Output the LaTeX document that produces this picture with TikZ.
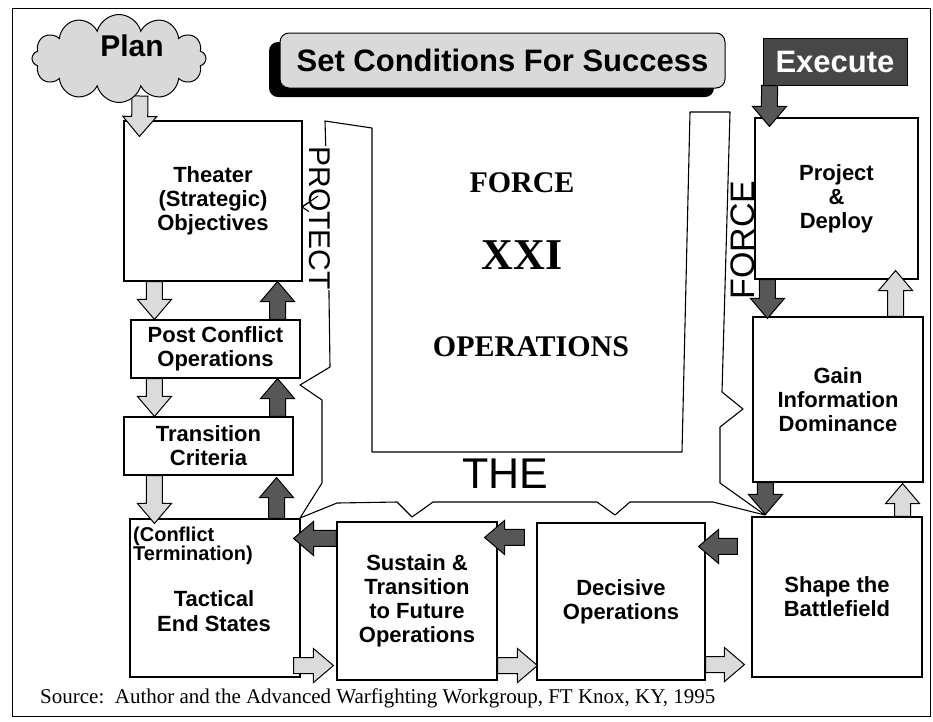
\documentclass[tikz,border=0pt]{standalone}
\usepackage{fontspec}
\setmainfont{Liberation Serif}
\newfontfamily\arialfont{Liberation Sans}
\usetikzlibrary{calc,shapes.symbols,shadows}
\newcommand\fsz[2]{\fontsize{#1pt}{#2pt}\selectfont}
\begin{document}
\begin{tikzpicture}[x=1pt,y=-1pt,
  box/.style={draw, line width=1.1pt, fill=white, align=center, inner sep=0pt,
    font=\arialfont\bfseries\fsz{22}{24}},
  boxtext/.style={align=center, inner sep=0pt, font=\arialfont\bfseries\fsz{22}{25}},
  band/.style={inner sep=0pt, font=\arialfont},
  inner/.style={inner sep=0pt, font=\bfseries},
  blk/.style={to path={let \p1=(\tikztostart), \p2=(\tikztotarget),
     \p3=($(\p1)!8pt!90:(\p2)$), \p4=($(\p1)!17pt!90:(\p2)$),
     \p5=($(\p2)!20pt!(\p1)$) in
     (\x3,\y3) -- ({\x5+\x3-\x1},{\y5+\y3-\y1}) -- ({\x5+\x4-\x1},{\y5+\y4-\y1})
     -- (\p2) -- ({\x5-\x4+\x1},{\y5-\y4+\y1}) -- ({\x5-\x3+\x1},{\y5-\y3+\y1})
     -- ({2*\x1-\x3},{2*\y1-\y3}) -- cycle}},
  lightarr/.style={draw, line width=1pt, fill=gray!28, blk},
  darkarr/.style={draw, line width=1pt, fill=black!66, blk}
 ]
\useasboundingbox (0,0) rectangle (933,721);
\fill[white] (0,0) rectangle (933,721);
% frame
\draw[line width=1pt] (12,8) rectangle (930,716);

% central outline (PROTECT / THE / FORCE band)
\draw[line width=1.1pt, line join=round]
  (325,121) -- (372,128) -- (372,452) -- (682,452) -- (690,112) -- (730,112)
  -- (722,392) -- (743,409) -- (720,427) -- (720,483) -- (765,515)
  -- (713,502) -- (630,502) -- (615,515) -- (597,502) -- (433,502)
  -- (412,517) -- (397,502) -- (337,503) -- (300,518) -- (322,483)
  -- (322,400) -- (300,385) -- (330,367) -- (328,224) -- (302,207)
  -- (327,190) -- cycle;
\node[band, rotate=-90, fill=white, font=\arialfont\fsz{30}{30}] (protect) at (320,218) {PROTECT};
\draw[line width=1.1pt] (302,207) -- (318,196);
\node[band, rotate=90, font=\arialfont\fsz{34}{34}] (force) at (743,240) {FORCE};
\node[band, font=\arialfont\fsz{43}{43}] (the) at (505,474) {THE};

% inner texts
\node[inner, font=\bfseries\fsz{30}{30}] (f21a) at (522,183) {FORCE};
\node[inner, font=\bfseries\fsz{44}{44}] (f21b) at (522,255) {XXI};
\node[inner, font=\bfseries\fsz{30}{30}] (f21c) at (531,347) {OPERATIONS};

% boxes
\node[box, minimum width=178pt, minimum height=160pt] (theater) at (213,201) {Theater\\(Strategic)\\Objectives};
\node[box, minimum width=169pt, minimum height=58pt] (post) at (215.5,349) {Post Conflict\\Operations};
\node[box, minimum width=169pt, minimum height=58pt] (trans) at (208.5,446) {Transition\\Criteria};
\node[box, minimum width=170pt, minimum height=158pt] (tact) at (215,598) {};
\node[boxtext] (tacttxt) at (214,611) {Tactical\\End States};
\node[boxtext, align=left, anchor=west, font=\arialfont\bfseries\fsz{20}{19}] (confl) at (133,546) {(Conflict\\Termination)};
\node[box, minimum width=160pt, minimum height=158pt] (sust) at (417,601) {Sustain \&\\Transition\\to Future\\Operations};
\node[box, minimum width=168pt, minimum height=157pt] (deci) at (621,601.5) {Decisive\\Operations};
\node[box, minimum width=170pt, minimum height=160pt] (shape) at (837,597) {Shape the\\Battlefield};
\node[box, minimum width=170pt, minimum height=165pt] (gain) at (838,399.5) {Gain\\Information\\Dominance};
\node[box, minimum width=163pt, minimum height=161pt] (proj) at (836.5,198.5) {Project\\\&\\Deploy};

% title boxes
\node[draw, line width=1pt, rounded corners=9pt, fill=gray!30, minimum width=445pt,
  minimum height=55pt, inner sep=0pt,
  drop shadow={shadow xshift=-11pt, shadow yshift=-9pt, fill=black, opacity=1},
  font=\arialfont\bfseries\fsz{31}{31}] (setc) at (502.5,60.5) {Set Conditions For Success};
\node[draw, line width=1pt, fill=black!72, minimum width=144pt, minimum height=47pt,
  inner sep=0pt, text=white, font=\arialfont\bfseries\fsz{31}{31}] (exe) at (835,61.5) {Execute};

% arrow end points
\coordinate (a2s) at ($(theater.south west)+(31,0)$);
\coordinate (a2e) at ($(post.north west)+(24,0)$);
\coordinate (a3s) at ($(post.north east)+(-23,0)$);
\coordinate (a3e) at ($(theater.south east)+(-25,0)$);
\coordinate (a4s) at ($(post.south west)+(24,0)$);
\coordinate (a4e) at ($(trans.north west)+(31,0)$);
\coordinate (a5s) at ($(trans.north east)+(-16,0)$);
\coordinate (a5e) at ($(post.south east)+(-23,0)$);
\coordinate (a6s) at ($(trans.south west)+(31,0)$);
\coordinate (a6e) at ($(tact.north west)+(25,5)$);
\coordinate (a7s) at ($(tact.north east)+(-24,0)$);
\coordinate (a7e) at ($(trans.south east)+(-17,2)$);
\coordinate (a8s) at ($(sust.north west)+(0,17)$);
\coordinate (a8e) at ($(tact.north east)+(-7,20)$);
\coordinate (a9s) at ($(tact.south east)+(-7,-12)$);
\coordinate (a9e) at ($(sust.south west)+(-3,-15)$);
\coordinate (a10s) at ($(deci.north west)+(-12,15)$);
\coordinate (a10e) at ($(sust.north east)+(-13,16)$);
\coordinate (a11s) at ($(sust.south east)+(0,-15)$);
\coordinate (a11e) at ($(deci.south west)+(1,-15)$);
\coordinate (a12s) at ($(shape.north west)+(-14,30)$);
\coordinate (a12e) at ($(deci.north east)+(-7,24)$);
\coordinate (a13s) at ($(deci.south east)+(0,-16)$);
\coordinate (a13e) at ($(shape.south west)+(-7,-13)$);
\coordinate (a14s) at ($(gain.south west)+(13,0)$);
\coordinate (a14e) at ($(shape.north west)+(14,-2)$);
\coordinate (a15s) at ($(shape.north east)+(-20,0)$);
\coordinate (a15e) at ($(gain.south east)+(-21,1)$);
\coordinate (a16s) at ($(proj.south west)+(13,0)$);
\coordinate (a16e) at ($(gain.north west)+(15,2)$);
\coordinate (a17s) at ($(gain.north east)+(-28,0)$);
\coordinate (a17e) at ($(proj.south east)+(-23,-9)$);
\coordinate (a18s) at ($(exe.south west)+(7,0)$);
\coordinate (a18e) at ($(proj.north west)+(15,9)$);
\coordinate (a19s) at (140,96);
\coordinate (a19e) at ($(theater.north west)+(16,16)$);

\draw[lightarr] (a2s) to (a2e);
\draw[darkarr] (a3s) to (a3e);
\draw[lightarr] (a4s) to (a4e);
\draw[darkarr] (a5s) to (a5e);
\draw[lightarr] (a6s) to (a6e);
\draw[darkarr] (a7s) to (a7e);
\draw[darkarr] (a8s) to (a8e);
\draw[lightarr] (a9s) to (a9e);
\draw[darkarr] (a10s) to (a10e);
\draw[lightarr] (a11s) to (a11e);
\draw[darkarr] (a12s) to (a12e);
\draw[lightarr] (a13s) to (a13e);
\draw[darkarr] (a14s) to (a14e);
\draw[lightarr] (a15s) to (a15e);
\draw[darkarr] (a16s) to (a16e);
\draw[lightarr] (a17s) to (a17e);
\draw[darkarr] (a18s) to (a18e);
\draw[lightarr] (a19s) to (a19e);

% plan cloud
\node[cloud, cloud puffs=12, aspect=2, draw, line width=1pt, fill=gray!30,
  minimum width=174pt, minimum height=88pt, inner sep=0pt] (plan) at (119,58.5) {};
\node[inner sep=0pt, font=\arialfont\bfseries\fsz{30}{30}] (plantxt) at (132,46) {Plan};

% source
\node[anchor=base west, inner sep=0pt, font=\fsz{21}{22}] (src) at (40,703)
  {Source:\ \ Author and the Advanced Warfighting Workgroup, FT Knox, KY, 1995};
\end{tikzpicture}
\end{document}
